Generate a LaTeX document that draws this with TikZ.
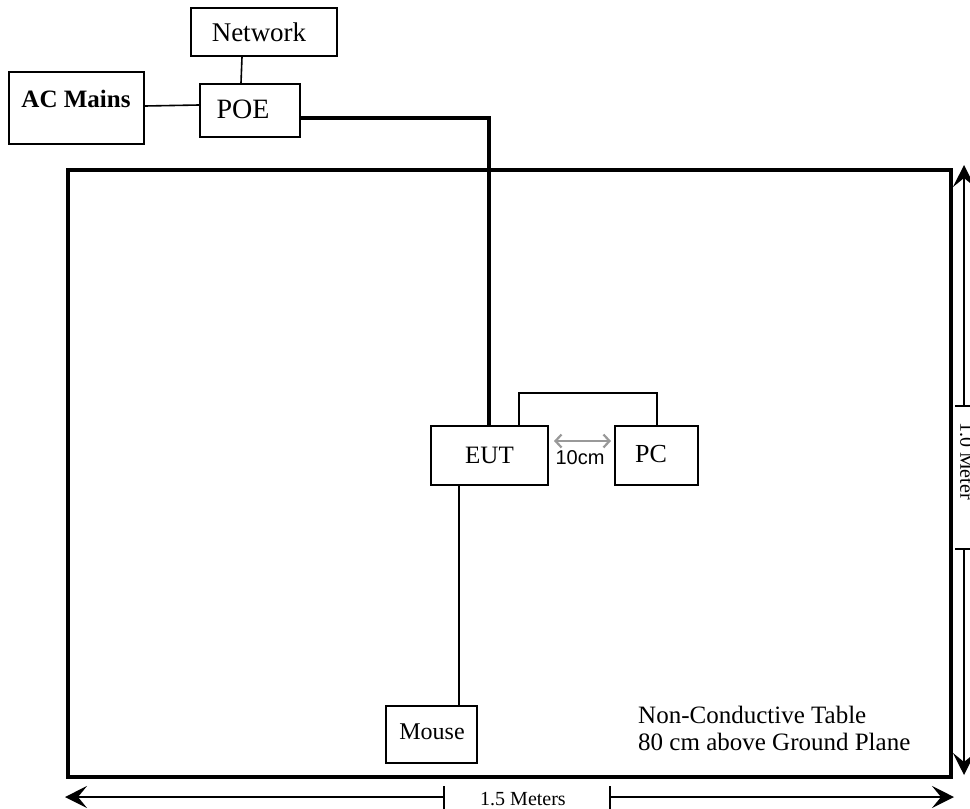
\documentclass[tikz,border=0pt]{standalone}
\usepackage{fontspec}
\setmainfont{Liberation Serif}
\newfontfamily\sansf{Liberation Sans}
\usetikzlibrary{arrows.meta}
\newcommand{\fsz}[1]{\fontsize{#1}{#1}\selectfont}
\tikzset{
  box/.style={draw, line width=2pt, inner sep=0pt, anchor=north west, font=\fsz{25}},
  wire/.style={line width=1.6pt},
  pwire/.style={line width=4pt},
  dimline/.style={line width=1.6pt},
  dimtip/.style={-{Stealth[length=22pt,width=22pt,inset=9pt]}},
  graytip/.style={{Straight Barb[length=6pt,width=13pt]}-{Straight Barb[length=6pt,width=13pt]}},
}
\begin{document}
\begin{tikzpicture}[x=1pt,y=-1pt]
\useasboundingbox (0,0) rectangle (970,809);
% boxes
\node[box, minimum width=146pt, minimum height=48pt] (net) at (190,7) {};
\node[font=\fsz{27}] (nettext) at (259,32) {Network};
\node[box, minimum width=135pt, minimum height=72pt] (ac) at (8,71) {};
\node[font=\fsz{25}\bfseries] (actext) at (76,99) {AC Mains};
\node[box, minimum width=100pt, minimum height=53pt] (poe) at (199,83) {};
\node[font=\fsz{28}] (poetext) at (243,109) {POE};
\node[draw, line width=4pt, minimum width=883pt, minimum height=607pt, anchor=north west, inner sep=0pt] (table) at (66,168) {};
\node[box, minimum width=117pt, minimum height=59pt] (eut) at (430,425) {EUT};
\node[box, minimum width=83pt, minimum height=59pt] (pc) at (614,425) {};
\node[font=\fsz{26}] (pctext) at (651,454) {PC};
\node[box, minimum width=91pt, minimum height=57pt] (mouse) at (385,705) {};
\node[font=\fsz{24}] (mousetext) at (432,732) {Mouse};
% wires
\draw[wire] (net.south -| 242,0) -- (poe.north -| 241,0);
\draw[wire] (ac.east |- 0,106) -- (poe.west |- 0,105);
\draw[pwire] (poe.east |- 0,118) -- (489,118) -- (eut.north -| 489,0);
\draw[wire] (eut.north -| 519,0) -- (519,393) -- (657,393) -- (pc.north -| 657,0);
\draw[wire] (eut.south -| 459,0) -- (mouse.north -| 459,0);
% 10cm arrow
\draw[line width=2.2pt, color=black!40, graytip] (eut.east |- 0,441) ++(5,0) coordinate (ga) -- (611,441) coordinate (gb);
\node[font=\sansf\fsz{20}] (tencm) at (580,458) {10cm};
% table text
\node[anchor=north west, align=left, font=\fontsize{25}{27}\selectfont, inner sep=0pt] (ttext) at (638,706) {Non-Conductive Table\\80 cm above Ground Plane};
% right dimension
\coordinate (rtop) at (964,165);
\coordinate (rt1) at (964,406);
\coordinate (rt2) at (964,549);
\coordinate (rbot) at (964,775);
\draw[dimline, dimtip] (rt1) -- (rtop);
\draw[dimline, dimtip] (rt2) -- (rbot);
\draw[dimline] (955,406) -- (972,406);
\draw[dimline] (955,549) -- (972,549);
\node[rotate=-90, font=\fsz{20}] (rlabel) at (967,461) {1.0 Meter};
% bottom dimension
\coordinate (bl) at (65,797);
\coordinate (bt1) at (444,797);
\coordinate (bt2) at (610,797);
\coordinate (br) at (954,797);
\draw[dimline, dimtip] (bt1) -- (bl);
\draw[dimline, dimtip] (bt2) -- (br);
\draw[dimline] (444,786) -- (444,809);
\draw[dimline] (610,786) -- (610,809);
\node[font=\fsz{20}] (blabel) at (523,799) {1.5 Meters};
\end{tikzpicture}
\end{document}
